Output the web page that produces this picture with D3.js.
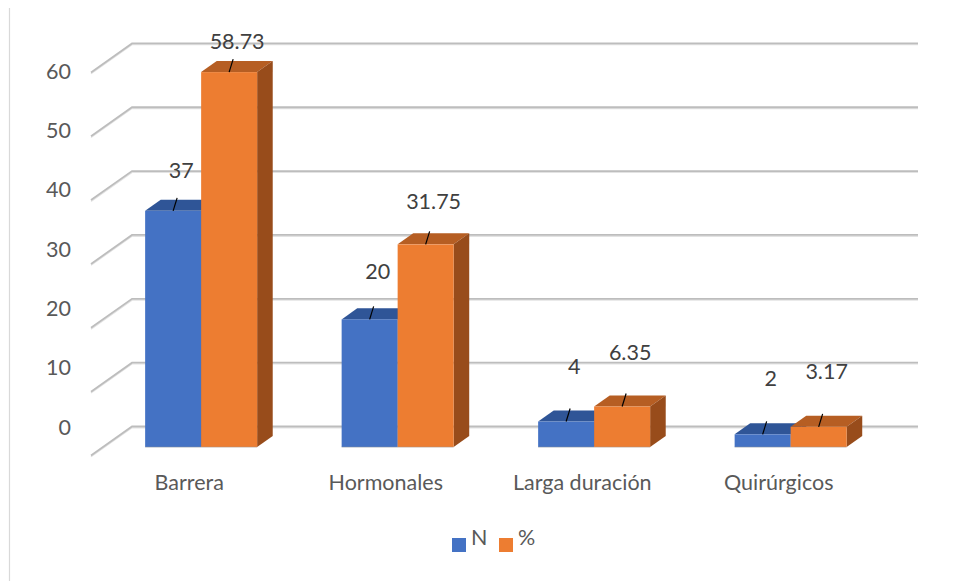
<!DOCTYPE html>
<html>
<head>
<meta charset="utf-8">
<script src="https://cdn.jsdelivr.net/npm/d3@7"></script>
<style>
  html, body { margin: 0; padding: 0; background: #fff; }
  svg { display: block; }
  text { font-family: Lato, "Open Sans", sans-serif; }
</style>
</head>
<body>
<svg id="chart" width="960" height="581"></svg>
<script>
// ---- data ----
const categories = ["Barrera", "Hormonales", "Larga duración", "Quirúrgicos"];
const seriesNames = ["N", "%"];
const valuesN = [37, 20, 4, 2];
const valuesPct = [58.73, 31.75, 6.35, 3.17];
const yTicks = [0, 10, 20, 30, 40, 50, 60];
const colors = {
  N:   { front: "#4472C4", top: "#2F5597", side: "#2B4F8E" },
  "%": { front: "#ED7D31", top: "#B65E23", side: "#984C1B" }
};

// ---- layout ----
const svg = d3.select("#chart");
const W = 960, H = 581;
const depthX = 41, depthY = -29;          // floor depth (front -> back)
const frontLeft = 91, frontRight = 877;
const front0 = 455.5, front60 = 72.4;
const barF1 = 0.29, barF2 = 0.67;          // bar depth position within floor
const barW = 56;
const FS = 21.5;

const x = d3.scaleBand().domain(categories).range([frontLeft, frontRight]);
const yFront = d3.scaleLinear().domain([0, 60]).range([front0, front60]);
const yLab = d3.scaleLinear().domain([0, 60]).range([427, 71]);
const sx = d3.scaleBand().domain(seriesNames).range([-barW, barW]);

// chart border (left)
svg.append("line").attr("x1", 9.5).attr("x2", 9.5).attr("y1", 8).attr("y2", H)
  .attr("stroke", "#D9D9D9").attr("stroke-width", 1.2);

// ---- gridlines (back wall + floor diagonal) ----
const grid = svg.append("g");
yTicks.forEach(t => {
  const yf = yFront(t), yb = yf + depthY;
  const pts = [[frontLeft, yf], [frontLeft + depthX, yb], [frontRight + depthX, yb]];
  grid.append("polyline").attr("points", pts.map(p => [p[0], p[1] + 1.3].join(",")).join(" "))
    .attr("fill", "none").attr("stroke", "#E3E3E3").attr("stroke-width", 1.3);
  grid.append("polyline").attr("points", pts.map(p => p.join(",")).join(" "))
    .attr("fill", "none").attr("stroke", "#BDBDBD").attr("stroke-width", 1.8);
});

// y tick labels
svg.append("g").selectAll("text").data(yTicks).join("text")
  .attr("x", 71).attr("y", d => yLab(d)).attr("dy", "0.35em")
  .attr("text-anchor", "end").attr("font-size", FS).attr("fill", "#595959")
  .text(d => d);

// ---- bars ----
const rows = [];
categories.forEach((c, i) => {
  rows.push({ cat: c, s: "N", v: valuesN[i] });
  rows.push({ cat: c, s: "%", v: valuesPct[i] });
});
const ox1 = depthX * barF1, oy1 = depthY * barF1;
const odx = depthX * (barF2 - barF1), ody = depthY * (barF2 - barF1);

const bars = svg.append("g");
rows.forEach(d => {
  const x0 = x(d.cat) + x.bandwidth() / 2 + ox1 + sx(d.s);
  const x1 = x0 + barW;
  const yb = yFront(0) + oy1;
  const yt = yFront(d.v) + oy1;
  const col = colors[d.s];
  const poly = pts => pts.map(p => p.join(",")).join(" ");
  bars.append("polygon").attr("points", poly([[x0, yt], [x1, yt], [x1 + odx, yt + ody], [x0 + odx, yt + ody]]))
    .attr("fill", col.top);
  bars.append("polygon").attr("points", poly([[x1, yt], [x1 + odx, yt + ody], [x1 + odx, yb + ody], [x1, yb]]))
    .attr("fill", col.side);
  bars.append("rect").attr("x", x0).attr("y", yt).attr("width", barW).attr("height", yb - yt)
    .attr("fill", col.front);
  d.cx = x0 + barW / 2; d.yt = yt;
});
categories.forEach(c => {
  const x0 = x(c) + x.bandwidth() / 2 + ox1 - barW;
  bars.append("line").attr("x1", x0).attr("x2", x0 + 2 * barW)
    .attr("y1", yFront(0) + oy1).attr("y2", yFront(0) + oy1)
    .attr("stroke", "#9A9A9A").attr("stroke-width", 0.8).attr("opacity", 0.6);
});

// ---- data labels with leader lines ----
const labels = svg.append("g");
rows.forEach(d => {
  const lx = d.cx + 8, ly = yLab(d.v) - 37;
  labels.append("text").attr("x", lx).attr("y", ly).attr("dy", "0.35em")
    .attr("text-anchor", "middle").attr("font-size", FS).attr("fill", "#404040")
    .text(d.v);
  const L = 13;
  labels.append("line").attr("x1", d.cx).attr("y1", d.yt)
    .attr("x2", d.cx + 4).attr("y2", d.yt - L)
    .attr("stroke", "#000").attr("stroke-width", 1.2);
});

// ---- category labels ----
svg.append("g").selectAll("text").data(categories).join("text")
  .attr("x", d => x(d) + x.bandwidth() / 2).attr("y", 482).attr("dy", "0.35em")
  .attr("text-anchor", "middle").attr("font-size", FS).attr("fill", "#595959")
  .text(d => d);

// ---- legend ----
const leg = svg.append("g");
const legX = d3.scalePoint().domain(seriesNames).range([452, 499]);
seriesNames.forEach(s => {
  leg.append("rect").attr("x", legX(s)).attr("y", 538).attr("width", 14).attr("height", 14)
    .attr("fill", colors[s].front);
  leg.append("text").attr("x", legX(s) + 19).attr("y", 537).attr("dy", "0.35em")
    .attr("font-size", FS).attr("fill", "#595959").text(s);
});
</script>
</body>
</html>
